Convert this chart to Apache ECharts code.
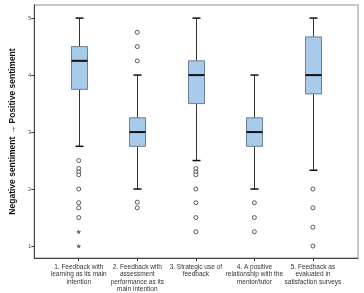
<!DOCTYPE html>
<html>
<head>
<meta charset="utf-8">
<script src="https://cdn.jsdelivr.net/npm/echarts@6/dist/echarts.min.js"></script>
<style>
html, body { margin: 0; padding: 0; background: #fff; }
#chart { width: 364px; height: 293px; }
</style>
</head>
<body>
<div id="chart"></div>
<script>
// categories on the x axis
var categories = [
	'1. Feedback with\nlearning as its main\nintention',
	'2. Feedback with\nassessment\nperformance as its\nmain intention',
	'3. Strategic use of\nfeedback',
	'4. A positive\nrelationship with the\nmentor/tutor',
	'5. Feedback as\nevaluated in\nsatisfaction surveys'
];
var positions = [1, 2, 3, 4, 5];
var lowWhisker = [2.75, 2.0, 2.5, 2.0, 2.33];
var q1 = [3.75, 2.75, 3.5, 2.75, 3.67];
var medians = [4.25, 3.0, 4.0, 3.0, 4.0];
var q3 = [4.5, 3.25, 4.25, 3.25, 4.67];
var highWhisker = [5, 4, 5, 4, 5];
// circles = outliers, stars = extreme values
var outliers = [
	[1, 2.5], [1, 2.36], [1, 2.3], [1, 2.25], [1, 2.0], [1, 1.76], [1, 1.67], [1, 1.5],
	[2, 4.75], [2, 4.5], [2, 4.25], [2, 1.77], [2, 1.67],
	[3, 2.36], [3, 2.3], [3, 2.25], [3, 2.0], [3, 1.76], [3, 1.5], [3, 1.25],
	[4, 1.76], [4, 1.5], [4, 1.25],
	[5, 2.0], [5, 1.67], [5, 1.33], [5, 1.0]
];
var extremes = [[1, 1.25], [1, 1.0]];
var yTicks = [1, 2, 3, 4, 5];

var boxData = [];
for (var i = 0; i < positions.length; i++) {
	boxData.push([positions[i], lowWhisker[i], q1[i], medians[i], q3[i], highWhisker[i]]);
}

var starPath = 'path://M50,0 L61,35 L98,35 L68,57 L79,92 L50,70 L21,92 L32,57 L2,35 L39,35 Z';

function renderBox(params, api) {
	var x = api.value(0);
	var pLow = api.coord([x, api.value(1)]);
	var pQ1 = api.coord([x, api.value(2)]);
	var pMed = api.coord([x, api.value(3)]);
	var pQ3 = api.coord([x, api.value(4)]);
	var pHigh = api.coord([x, api.value(5)]);
	var cx = Math.round(pMed[0]) + 0.5;
	var half = 8, cap = 4;
	var line = { stroke: '#333', lineWidth: 1 };
	return {
		type : 'group',
		children : [
			{ type : 'line', shape : { x1 : cx, y1 : pHigh[1], x2 : cx, y2 : pQ3[1] }, style : line },
			{ type : 'line', shape : { x1 : cx, y1 : pQ1[1], x2 : cx, y2 : pLow[1] }, style : line },
			{ type : 'line', shape : { x1 : cx - cap, y1 : pHigh[1], x2 : cx + cap, y2 : pHigh[1] }, style : { stroke : '#111', lineWidth : 1.5 } },
			{ type : 'line', shape : { x1 : cx - cap, y1 : pLow[1], x2 : cx + cap, y2 : pLow[1] }, style : { stroke : '#111', lineWidth : 1.5 } },
			{ type : 'rect', shape : { x : cx - half, y : pQ3[1], width : half * 2, height : pQ1[1] - pQ3[1] },
				style : { fill : '#a8cbec', stroke : '#6b7f93', lineWidth : 1 } },
			{ type : 'line', shape : { x1 : cx - half, y1 : pMed[1], x2 : cx + half, y2 : pMed[1] }, style : { stroke : '#111', lineWidth : 2 } }
		]
	};
}

var option = {
	animation : false,
	backgroundColor : '#fff',
	textStyle : { fontFamily : 'Liberation Sans' },
	grid : {
		left : 22, top : 5, right : 6, bottom : 35,
		show : true, borderColor : '#b5b5b5', borderWidth : 1.5
	},
	xAxis : {
		type : 'value',
		min : 0.24, max : 5.77,
		splitLine : { show : false },
		axisLine : { show : true, lineStyle : { color : '#444', width : 1 } },
		axisTick : { show : true, length : 3, customValues : positions, lineStyle : { color : '#333' } },
		axisLabel : {
			customValues : positions,
			fontSize : 6.5, color : '#333', lineHeight : 7.5, margin : 5,
			formatter : function(v) { return categories[Math.round(v) - 1]; }
		}
	},
	yAxis : {
		type : 'value',
		min : 0.79, max : 5.23,
		name : 'Negative sentiment \u2192 Positive sentiment',
		nameLocation : 'middle', nameGap : 15,
		nameTextStyle : { fontSize : 8.5, fontWeight : 'bold', color : '#111' },
		splitLine : { show : false },
		axisLine : { show : true, lineStyle : { color : '#444', width : 1 } },
		axisTick : { show : true, length : 3, customValues : yTicks, lineStyle : { color : '#333' } },
		axisLabel : { customValues : yTicks, fontSize : 6, color : '#555', margin : 3 }
	},
	series : [ {
		type : 'custom',
		renderItem : renderBox,
		encode : { x : 0, y : [1, 2, 3, 4, 5] },
		data : boxData
	}, {
		type : 'scatter',
		symbol : 'circle', symbolSize : 4,
		itemStyle : { color : '#fff', borderColor : '#333', borderWidth : 1 },
		data : outliers
	}, {
		type : 'scatter',
		symbol : starPath, symbolSize : 5,
		itemStyle : { color : '#222' },
		data : extremes
	} ]
};

var myChart = echarts.init(document.getElementById('chart'));
myChart.setOption(option);
</script>
</body>
</html>
